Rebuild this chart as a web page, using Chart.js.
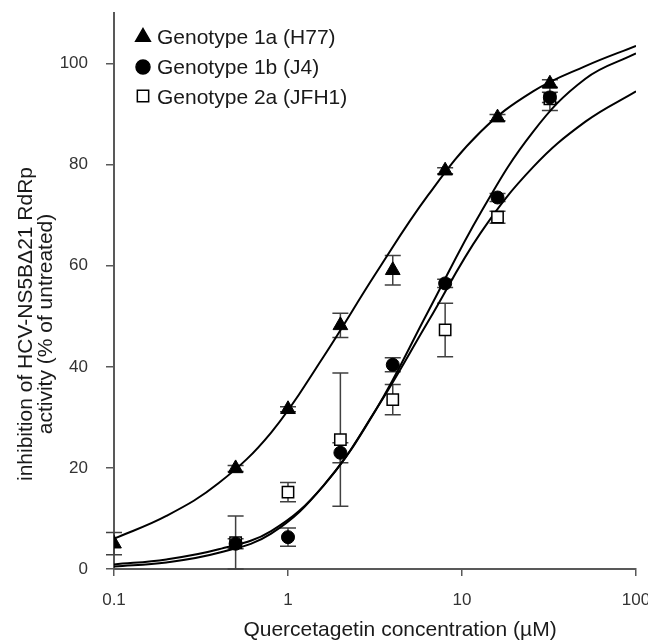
<!DOCTYPE html>
<html>
<head>
<meta charset="utf-8">
<script src="https://cdn.jsdelivr.net/npm/chart.js@4.4.1/dist/chart.umd.min.js"></script>
<style>
  html, body { margin: 0; padding: 0; background: #fff; }
  #wrap { width: 648px; height: 642px; }
</style>
</head>
<body>
<div id="wrap"><canvas id="chart" width="648" height="642"></canvas></div>
<script>
const conc1a = [0.1, 0.5, 1, 2, 4, 8, 16, 32];
const geno1a = [5.0, 19.9, 31.6, 48.2, 59.1, 78.8, 89.3, 96.0];
const geno1aErr = [2.2, 0.6, 0.5, 2.4, 2.9, 0.6, 0.6, 0.8];

const concOther = [0.5, 1, 2, 4, 8, 16, 32];
const geno1b = [5.0, 6.3, 23.0, 40.4, 56.5, 73.5, 93.3];
const geno1bErr = [1.0, 1.8, 2.0, 1.4, 0.8, 0.8, 1.0];
const geno2a = [5.2, 15.2, 25.6, 33.5, 47.3, 69.6, 93.0];
const geno2aErr = [5.3, 1.9, 13.2, 3.0, 5.3, 1.2, 2.3];

// fitted curves at doubling concentrations
const curveX = [0.1, 0.2, 0.4, 0.8, 1.6, 3.2, 6.4, 12.8, 25.6, 51.2, 100];
const fit1a = [6.0, 10.5, 17.0, 27.0, 42.0, 58.5, 74.0, 86.5, 94.5, 99.5, 103.5];
const fit1b = [0.5, 1.3, 3.2, 7.0, 16.5, 31.5, 51.0, 70.5, 86.5, 97.0, 102.0];
const fit2a = [0.9, 1.9, 3.9, 7.5, 16.5, 31.5, 49.0, 66.5, 79.5, 88.5, 94.5];

const legendLabels = ['Genotype 1a (H77)', 'Genotype 1b (J4)', 'Genotype 2a (JFH1)'];
const xTicks = [0.1, 1, 10, 100];
const yTicks = [0, 20, 40, 60, 80, 100];

const FONT = '"Liberation Sans", Arial, sans-serif';
const AXIS = '#595959';

function pts(xs, ys) {
  return xs.map((x, i) => ({ x: x, y: ys[i] }));
}

function marker(ctx, style, r, x, y, fill) {
  ctx.save();
  ctx.fillStyle = fill;
  ctx.strokeStyle = '#000';
  ctx.lineWidth = 1.5;
  ctx.beginPath();
  if (style === 'triangle') {
    ctx.moveTo(x, y - r);
    ctx.lineTo(x + r * 0.866, y + r / 2);
    ctx.lineTo(x - r * 0.866, y + r / 2);
    ctx.closePath();
  } else if (style === 'circle') {
    ctx.arc(x, y, r, 0, Math.PI * 2);
  } else {
    const s = r * Math.SQRT1_2;
    ctx.rect(x - s, y - s, 2 * s, 2 * s);
  }
  ctx.fill();
  ctx.stroke();
  ctx.restore();
}

// error bars behind the markers
const errorBars = {
  id: 'errorBars',
  beforeDatasetsDraw(chart) {
    const ctx = chart.ctx;
    const y = chart.scales.y;
    chart.data.datasets.forEach((ds, di) => {
      if (!ds.errors) return;
      const meta = chart.getDatasetMeta(di);
      ctx.save();
      ctx.strokeStyle = '#404040';
      ctx.lineWidth = 1.5;
      meta.data.forEach((el, i) => {
        const v = ds.data[i].y, e = ds.errors[i];
        const top = y.getPixelForValue(v + e);
        const bot = y.getPixelForValue(Math.max(0, v - e));
        ctx.beginPath();
        ctx.moveTo(el.x, top); ctx.lineTo(el.x, bot);
        ctx.moveTo(el.x - 8, top); ctx.lineTo(el.x + 8, top);
        ctx.moveTo(el.x - 8, bot); ctx.lineTo(el.x + 8, bot);
        ctx.stroke();
      });
      ctx.restore();
    });
  }
};

const extras = {
  id: 'extras',
  afterDraw(chart) {
    const ctx = chart.ctx;
    ctx.save();
    ctx.fillStyle = '#1a1a1a';
    ctx.font = '21px ' + FONT;
    ctx.textBaseline = 'alphabetic';

    // legend
    const styles = [['triangle', 8.5, '#000'], ['circle', 7, '#000'], ['rect', 8, '#fff']];
    const rowY = [37, 67, 96];
    const baseY = [44, 74, 104];
    legendLabels.forEach((t, i) => {
      marker(ctx, styles[i][0], styles[i][1], 143, rowY[i], styles[i][2]);
      ctx.fillStyle = '#1a1a1a';
      ctx.textAlign = 'left';
      ctx.fillText(t, 157, baseY[i]);
    });

    // axis titles
    ctx.textAlign = 'center';
    ctx.fillText('Quercetagetin concentration (\u00b5M)', 400, 636);
    ctx.save();
    ctx.translate(32, 324);
    ctx.rotate(-Math.PI / 2);
    ctx.fillText('inhibition of HCV-NS5B\u039421 RdRp', 0, 0);
    ctx.restore();
    ctx.save();
    ctx.translate(52, 324);
    ctx.rotate(-Math.PI / 2);
    ctx.fillText('activity (% of untreated)', 0, 0);
    ctx.restore();
    ctx.restore();
  }
};

const curveStyle = {
  showLine: true,
  borderColor: '#000',
  borderWidth: 2,
  pointRadius: 0,
  pointHoverRadius: 0,
  tension: 0.4,
  fill: false
};

new Chart(document.getElementById('chart'), {
  type: 'scatter',
  data: {
    datasets: [
      { label: legendLabels[0], data: pts(conc1a, geno1a), errors: geno1aErr,
        pointStyle: 'triangle', pointRadius: 8.5, backgroundColor: '#000', borderColor: '#000', borderWidth: 1 },
      { label: legendLabels[1], data: pts(concOther, geno1b), errors: geno1bErr,
        pointStyle: 'circle', pointRadius: 6.5, backgroundColor: '#000', borderColor: '#000', borderWidth: 1 },
      { label: legendLabels[2], data: pts(concOther, geno2a), errors: geno2aErr,
        pointStyle: 'rect', pointRadius: 8, backgroundColor: '#fff', borderColor: '#000', borderWidth: 1.5 },
      Object.assign({ label: 'fit 1a', data: pts(curveX, fit1a) }, curveStyle),
      Object.assign({ label: 'fit 1b', data: pts(curveX, fit1b) }, curveStyle),
      Object.assign({ label: 'fit 2a', data: pts(curveX, fit2a) }, curveStyle)
    ]
  },
  options: {
    responsive: false,
    animation: false,
    devicePixelRatio: 1,
    layout: { padding: { top: 13, right: 12, left: 0, bottom: 0 } },
    plugins: { legend: { display: false }, tooltip: { enabled: false } },
    scales: {
      x: {
        type: 'logarithmic',
        min: 0.1,
        max: 100,
        afterBuildTicks: s => { s.ticks = xTicks.map(v => ({ value: v })); },
        afterFit: s => { s.height = 73; s.paddingLeft = 0; s.paddingRight = 0; },
        ticks: { autoSkip: false, maxRotation: 0, padding: 14, color: '#333',
          font: { family: FONT, size: 17 }, callback: v => String(v) },
        grid: { display: true, drawOnChartArea: false, drawTicks: true, tickLength: 7, color: AXIS, lineWidth: 1.5 },
        border: { display: true, color: AXIS, width: 2 },
        title: { display: false }
      },
      y: {
        type: 'linear',
        min: 0,
        max: 110,
        afterBuildTicks: s => { s.ticks = yTicks.map(v => ({ value: v })); },
        afterFit: s => { s.width = 114; s.paddingTop = 0; s.paddingBottom = 0; },
        ticks: { padding: 18, color: '#333', font: { family: FONT, size: 17 } },
        grid: { display: true, drawOnChartArea: false, drawTicks: true, tickLength: 8, color: AXIS, lineWidth: 1.5 },
        border: { display: true, color: AXIS, width: 2 },
        title: { display: false }
      }
    }
  },
  plugins: [errorBars, extras]
});
</script>
</body>
</html>
